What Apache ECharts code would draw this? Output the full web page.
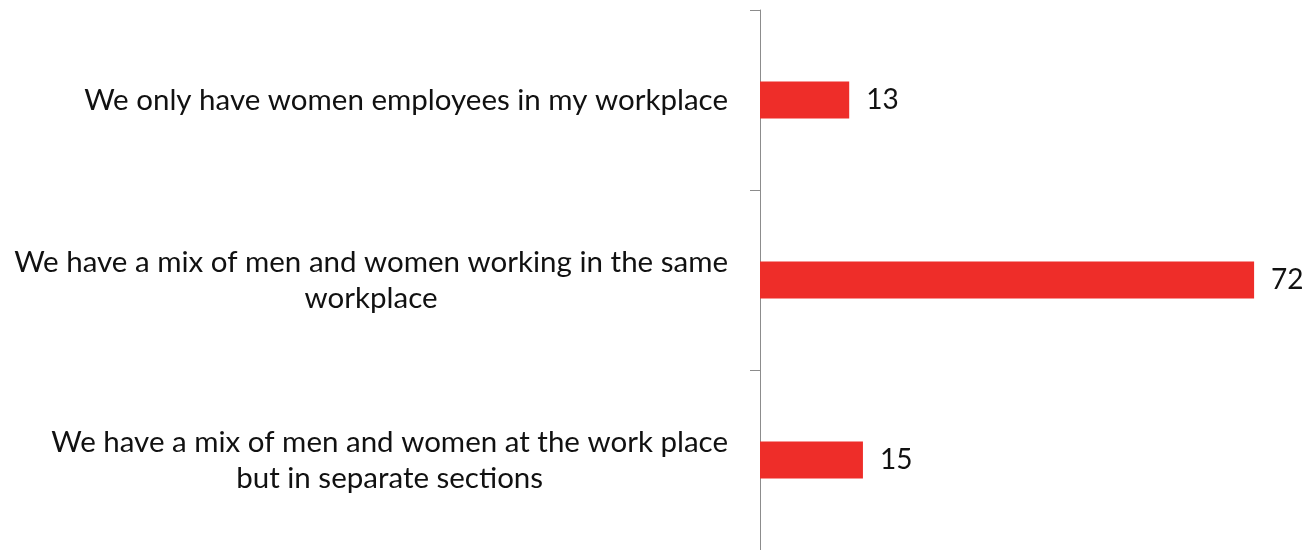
<!DOCTYPE html>
<html>
<head>
<meta charset="utf-8">
<script src="https://cdn.jsdelivr.net/npm/echarts@6/dist/echarts.min.js"></script>
<style>
  html, body { margin: 0; padding: 0; background: #ffffff; }
  #chart { width: 1309px; height: 550px; }
</style>
</head>
<body>
<div id="chart"></div>
<script>
// Workplace composition responses (percent)
const categories = [
  'We only have women employees in my workplace',
  'We have a mix of men and women working in the same\nworkplace',
  'We have a mix of men and women at the work place\nbut in separate sections'
];
const values = [13, 72, 15];

const FONT = 'Lato, "Open Sans", sans-serif';
const FONT_SIZE = 29.5;

const chart = echarts.init(document.getElementById('chart'), null, { renderer: 'canvas' });

chart.setOption({
  animation: false,
  backgroundColor: '#ffffff',
  grid: { left: 760, right: 0, top: 10, bottom: -2, containLabel: false },
  xAxis: {
    type: 'value',
    min: 0,
    max: 80,
    show: false
  },
  yAxis: {
    type: 'category',
    inverse: true,
    data: categories,
    axisLine: { show: true, lineStyle: { color: '#8c8c8c', width: 1 } },
    axisTick: { show: true, length: 10, lineStyle: { color: '#8c8c8c' } },
    splitLine: { show: false },
    axisLabel: {
      margin: 32,
      color: '#111111',
      fontFamily: FONT,
      fontSize: FONT_SIZE,
      lineHeight: 36,
      formatter: function (v) {
        return v.split('\n').map(function (s) { return '{c|' + s + '}'; }).join('\n');
      },
      rich: {
        c: {
          align: 'center',
          fontFamily: FONT,
          fontSize: FONT_SIZE,
          lineHeight: 36,
          color: '#111111'
        }
      }
    }
  },
  series: [{
    type: 'bar',
    data: values,
    barWidth: 37,
    itemStyle: { color: '#ee2d29' },
    label: {
      show: true,
      position: 'right',
      distance: 17,
      color: '#111111',
      fontFamily: FONT,
      fontSize: 28
    }
  }]
});
</script>
</body>
</html>
